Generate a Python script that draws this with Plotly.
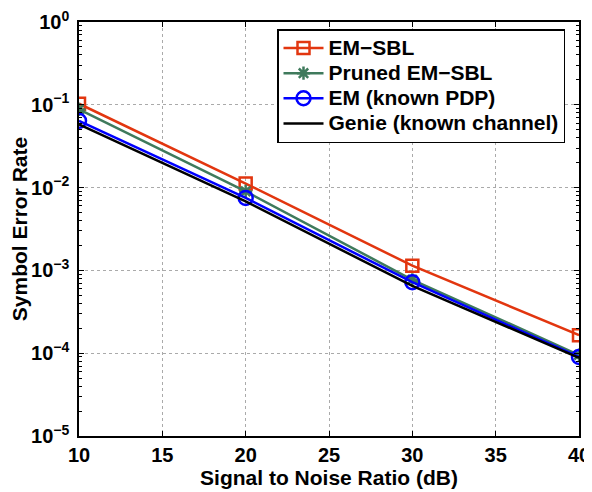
import plotly.graph_objects as go

snr = [10, 20, 30, 40]
em_sbl = [0.103, 0.0112, 1.14e-3, 1.65e-4]
pruned_em_sbl = [0.088, 0.0090, 7.7e-4, 9.5e-5]
em_known_pdp = [0.064, 0.0075, 7.2e-4, 9.0e-5]
genie = [0.058, 0.0068, 6.5e-4, 8.8e-5]

series_names = ["EM−SBL", "Pruned EM−SBL", "EM (known PDP)", "Genie (known channel)"]
x_ticks = [10, 15, 20, 25, 30, 35, 40]
y_tickvals = [1, 1e-1, 1e-2, 1e-3, 1e-4, 1e-5]
y_ticktext = ["10<sup>0</sup>", "10<sup>−1</sup>", "10<sup>−2</sup>", "10<sup>−3</sup>",
              "10<sup>−4</sup>", "10<sup>−5</sup>"]

FONT = "Liberation Sans, Arial, sans-serif"


def legend_label(name):
    # legend rows are spaced for a 17 px font, but the text itself is 21 px
    return f'<span style="font-size:21px">{name}</span>'


fig = go.Figure()
fig.add_trace(go.Scatter(x=snr, y=em_sbl, name=legend_label(series_names[0]), mode="lines+markers",
                         line=dict(color="#E2360F", width=2.5),
                         marker=dict(symbol="square-open", size=12, color="#E2360F",
                                     line=dict(width=2.5, color="#E2360F"))))
fig.add_trace(go.Scatter(x=snr, y=pruned_em_sbl, name=legend_label(series_names[1]), mode="lines+markers",
                         line=dict(color="#3F7A5C", width=2.5),
                         marker=dict(symbol="asterisk-open", size=11, color="#3F7A5C",
                                     line=dict(width=2.5, color="#3F7A5C"))))
fig.add_trace(go.Scatter(x=snr, y=em_known_pdp, name=legend_label(series_names[2]), mode="lines+markers",
                         line=dict(color="#0000FF", width=2.5),
                         marker=dict(symbol="circle-open", size=14, color="#0000FF",
                                     line=dict(width=2.5, color="#0000FF"))))
fig.add_trace(go.Scatter(x=snr, y=genie, name=legend_label(series_names[3]), mode="lines",
                         line=dict(color="black", width=2.5)))

# The page body has an 8 px default margin, so the figure is sized and
# offset to land its plot area at x 79..579, y 22..442 of the window.
fig.update_layout(
    width=584, height=484,
    margin=dict(l=71, r=13, t=14, b=50),
    paper_bgcolor="white", plot_bgcolor="white",
    font=dict(family=FONT, size=20, color="black", weight="bold"),
    showlegend=True,
    legend=dict(x=0.396, y=0.983, xanchor="left", yanchor="top",
                bgcolor="white", bordercolor="black", borderwidth=1.5,
                font=dict(family=FONT, size=17, color="black", weight="bold"),
                tracegroupgap=0, itemwidth=40),
)
fig.update_xaxes(
    range=[10, 40], tickvals=x_ticks, ticks="inside", ticklen=5, tickwidth=1,
    tickcolor="black", showline=True, linecolor="black", linewidth=1.5, mirror="ticks",
    showgrid=True, gridcolor="#AAAAAA", griddash="dot", gridwidth=1, zeroline=False,
    tickfont=dict(family=FONT, size=20, weight="bold"), ticklabeloverflow="allow",
    automargin="height+bottom",
    title=dict(text="Signal to Noise Ratio (dB)", standoff=0,
               font=dict(family=FONT, size=21, weight="bold")),
)
fig.update_yaxes(
    type="log", range=[-5, 0], tickvals=y_tickvals, ticktext=y_ticktext,
    ticks="inside", ticklen=5, tickwidth=1, tickcolor="black",
    showline=True, linecolor="black", linewidth=1.5, mirror="ticks",
    showgrid=True, gridcolor="#AAAAAA", griddash="dot", gridwidth=1, zeroline=False,
    minor=dict(ticks="inside", ticklen=3, tickcolor="black", showgrid=False,
               tickvals=[m * 10 ** e for e in range(-5, 0) for m in range(2, 10)]),
    tickfont=dict(family=FONT, size=20, weight="bold"), ticklabeloverflow="allow",
    ticklabelstandoff=4, automargin=False,
    title=dict(text="Symbol Error Rate", standoff=0,
               font=dict(family=FONT, size=21, weight="bold")),
)

fig.write_html("out.html")
